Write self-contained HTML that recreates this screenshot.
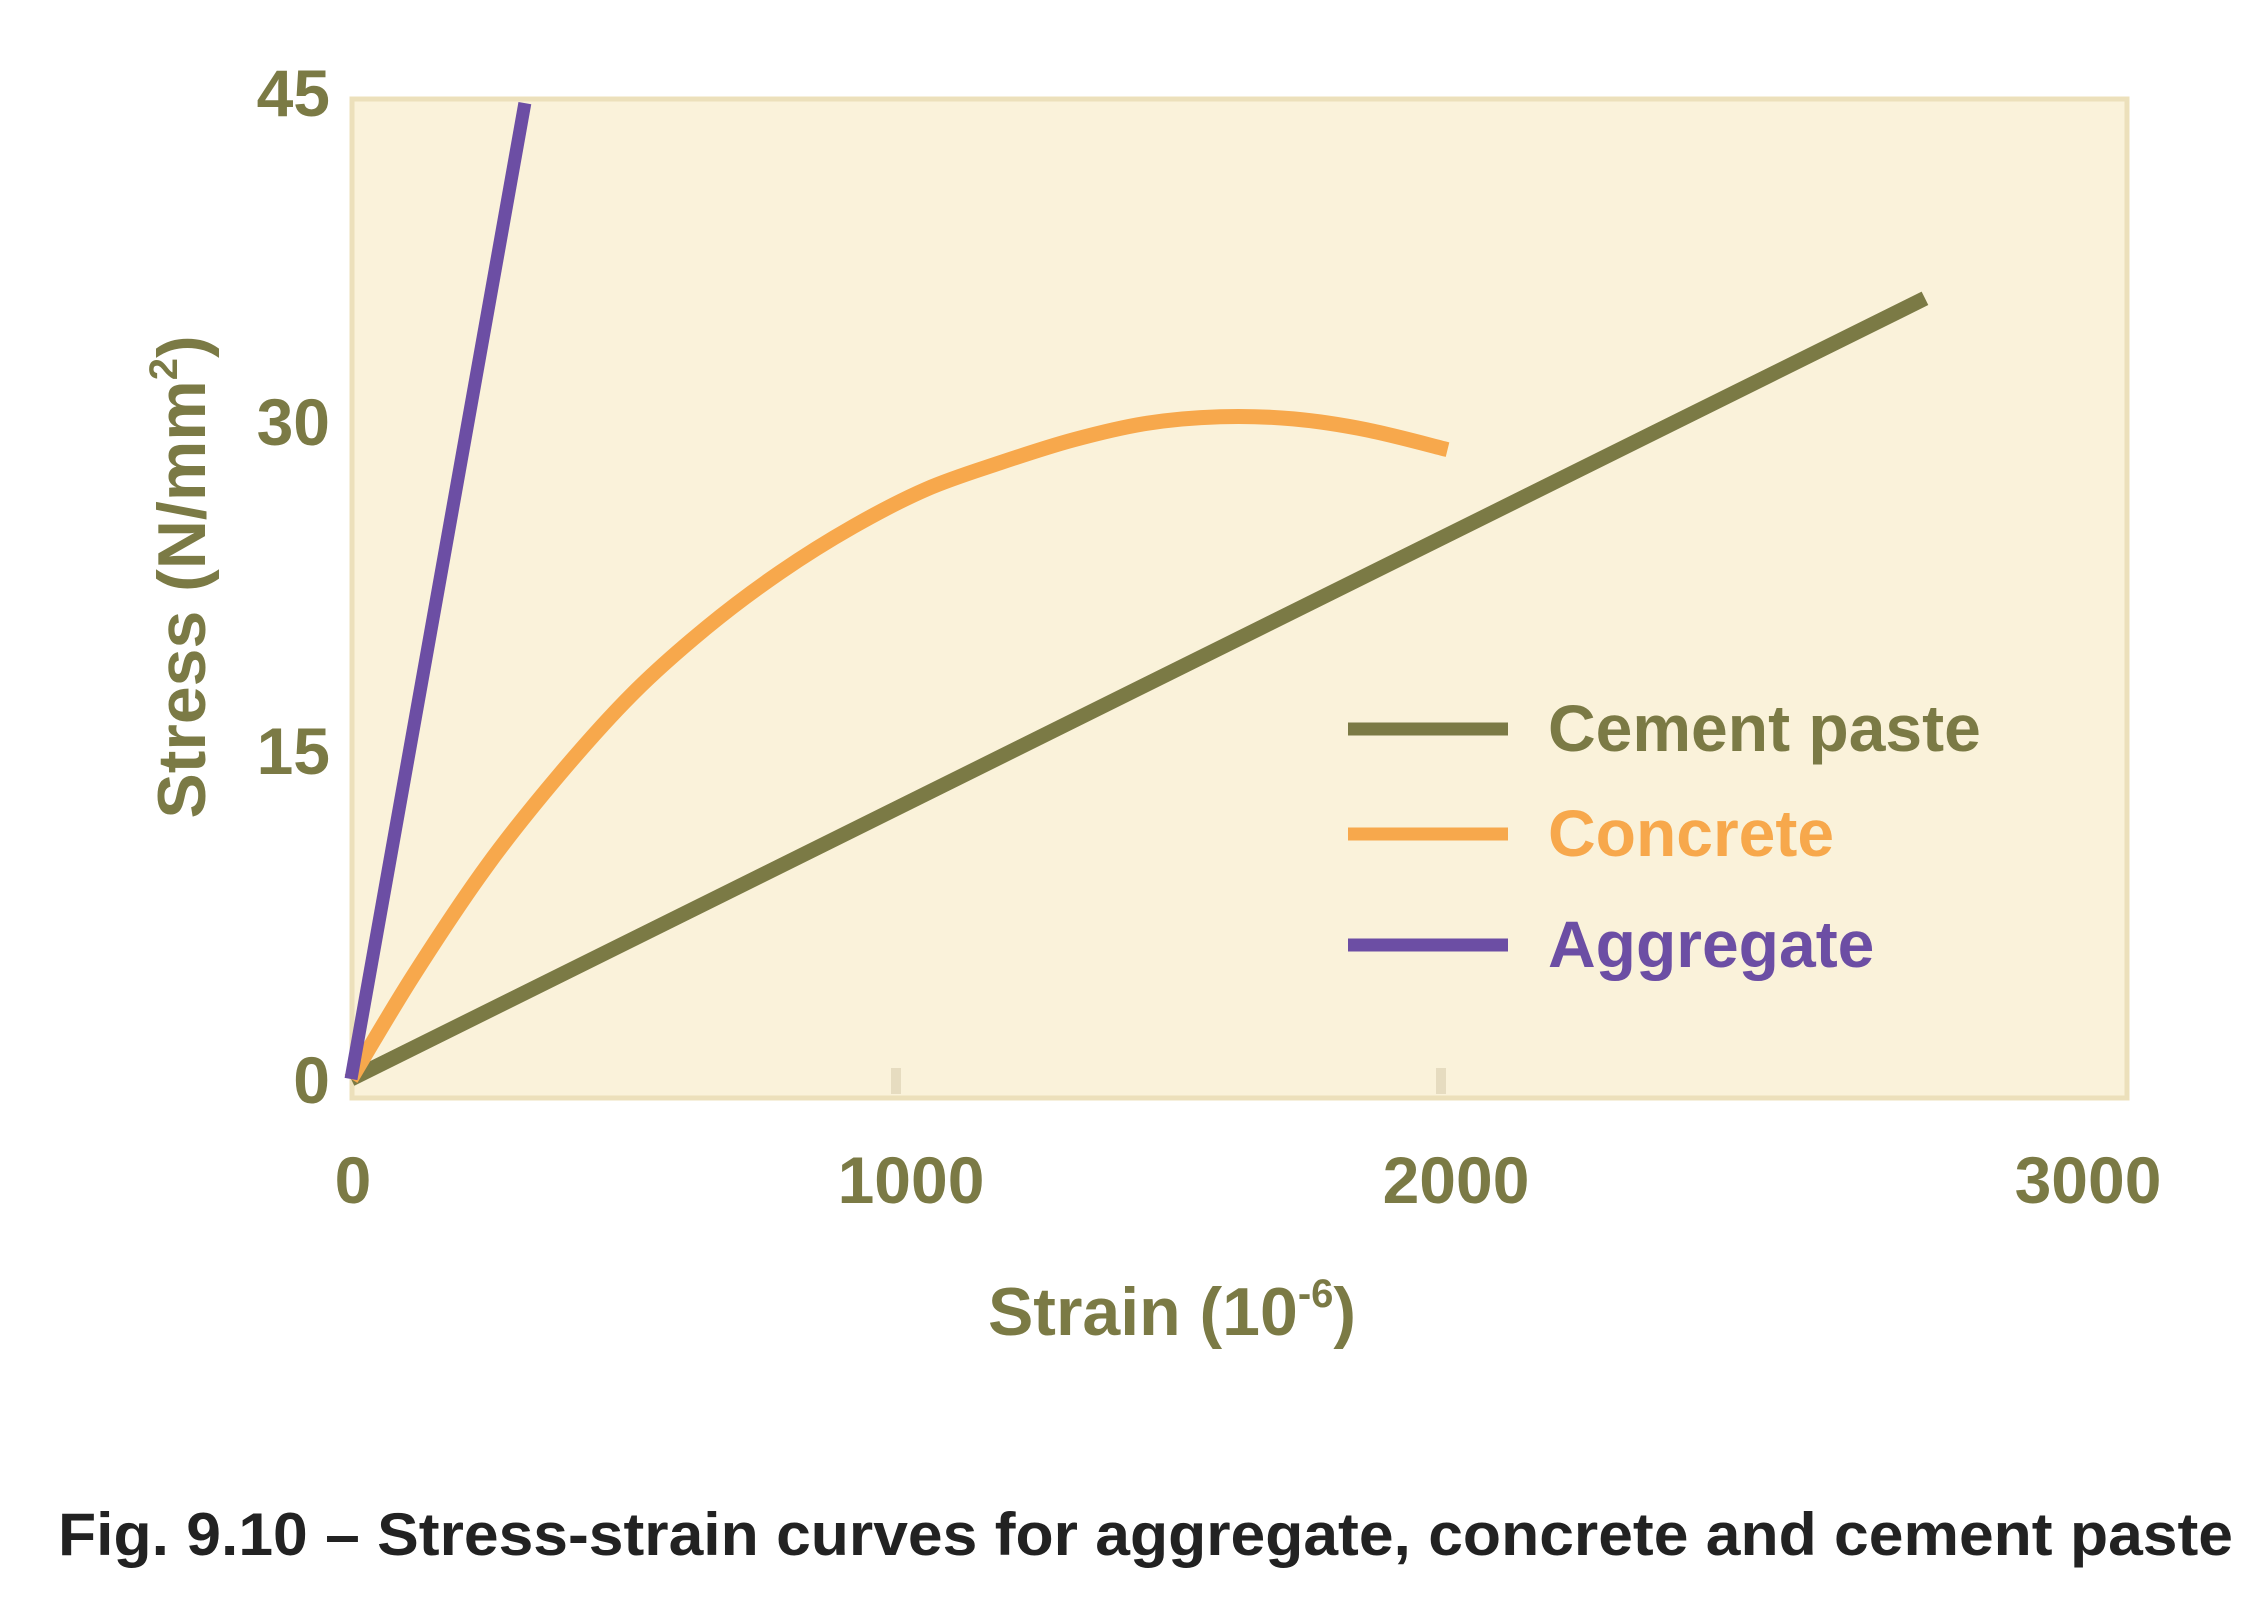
<!DOCTYPE html>
<html><head><meta charset="utf-8"><style>
body{margin:0;background:#fff;}
svg text{font-family:"Liberation Sans Narrow","Liberation Sans",sans-serif;font-weight:bold;}
</style></head><body>
<svg width="2261" height="1615" viewBox="0 0 2261 1615">
<rect x="352" y="99" width="1775" height="999" fill="#faf2da" stroke="#ece0bb" stroke-width="5"/>
<g id="axes"></g>
<g id="series"></g>
<g>
<line x1="1348" y1="729" x2="1508" y2="729" stroke="#7b7a45" stroke-width="13"/>
<text x="1548" y="751" font-size="66" fill="#7b7a45">Cement paste</text>
<line x1="1348" y1="834" x2="1508" y2="834" stroke="#f7a84c" stroke-width="13"/>
<text x="1548" y="856" font-size="66" fill="#f7a84c">Concrete</text>
<line x1="1348" y1="945" x2="1508" y2="945" stroke="#6c4ea4" stroke-width="13"/>
<text x="1548" y="967" font-size="66" fill="#6c4ea4">Aggregate</text>
</g>
<text x="1172" y="1335" font-size="68" fill="#7b7a45" text-anchor="middle">Strain (10<tspan font-size="40" dy="-28">-6</tspan><tspan dy="28">)</tspan></text>
<text transform="translate(205,577) rotate(-90)" font-size="68" fill="#7b7a45" text-anchor="middle">Stress (N/mm<tspan font-size="40" dy="-28">2</tspan><tspan dy="28">)</tspan></text>
<text x="58" y="1555" font-size="60" fill="#222" textLength="2175" lengthAdjust="spacingAndGlyphs">Fig. 9.10 – Stress-strain curves for aggregate, concrete and cement paste</text>
</svg>
<script>
const xTicks=[0,1000,2000,3000];
const yTicks=[0,15,30,45];
const cementStrain=[0,2888];
const cementStress=[0,35.6];
const aggregateStrain=[0,319];
const aggregateStress=[0,44.5];
const concreteStrain=[0,114,249,383,518,653,787,922,1056,1191,1326,1460,1595,1729,1864,2012];
const concreteStress=[0,4.7,9.7,13.9,17.6,20.6,23.1,25.2,26.9,28.1,29.15,29.9,30.2,30.1,29.6,28.7];
const NS='http://www.w3.org/2000/svg';
const X=v=>351+v*0.545;
const Y=v=>1079-v*21.93;
const axes=document.getElementById('axes');
xTicks.forEach((t,i)=>{
 const tx=document.createElementNS(NS,'text');
 tx.setAttribute('x',X(t)+(i==0?2:i==3*1?455-X(t)+X(t)-455+ (2088-X(t)) : 15));
 tx.setAttribute('y',1203);
 tx.setAttribute('font-size','66');tx.setAttribute('fill','#7b7a45');tx.setAttribute('text-anchor','middle');
 tx.textContent=t;
 
 
 axes.appendChild(tx);
 if(i==1||i==2){const m=document.createElementNS(NS,'line');
 m.setAttribute('x1',X(t));m.setAttribute('x2',X(t));m.setAttribute('y1',1068);m.setAttribute('y2',1094);
 m.setAttribute('stroke','#e6dcc0');m.setAttribute('stroke-width','10');
 
 
 axes.appendChild(m);}
});
yTicks.forEach((t,i)=>{
 const tx=document.createElementNS(NS,'text');
 tx.setAttribute('x',330);tx.setAttribute('y',Y(t)+24);
 tx.setAttribute('font-size','66');tx.setAttribute('fill','#7b7a45');tx.setAttribute('text-anchor','end');
 tx.textContent=t;
 
 
 axes.appendChild(tx);
});
const ser=document.getElementById('series');
function line(xs,ys,col,w,name,smooth){
 const p=document.createElementNS(NS,'path');
 let d='M'+X(xs[0])+','+Y(ys[0]);
 if(smooth){
  for(let i=0;i<xs.length-1;i++){
   const x0=X(xs[Math.max(i-1,0)]),y0=Y(ys[Math.max(i-1,0)]);
   const x1=X(xs[i]),y1=Y(ys[i]),x2=X(xs[i+1]),y2=Y(ys[i+1]);
   const j=Math.min(i+2,xs.length-1);const x3=X(xs[j]),y3=Y(ys[j]);
   d+=' C'+(x1+(x2-x0)/6)+','+(y1+(y2-y0)/6)+' '+(x2-(x3-x1)/6)+','+(y2-(y3-y1)/6)+' '+x2+','+y2;
  }
 } else {for(let i=1;i<xs.length;i++)d+=' L'+X(xs[i])+','+Y(ys[i]);}
 p.setAttribute('d',d);p.setAttribute('fill','none');p.setAttribute('stroke',col);
 p.setAttribute('stroke-width',w);p.setAttribute('stroke-linecap','butt');
 
 
 ser.appendChild(p);
}
line(cementStrain,cementStress,'#7b7a45',15,'cement-paste-line',false);
line(concreteStrain,concreteStress,'#f7a84c',15,'concrete-line',true);
line(aggregateStrain,aggregateStress,'#6c4ea4',13,'aggregate-line',false);
</script>
</body></html>
